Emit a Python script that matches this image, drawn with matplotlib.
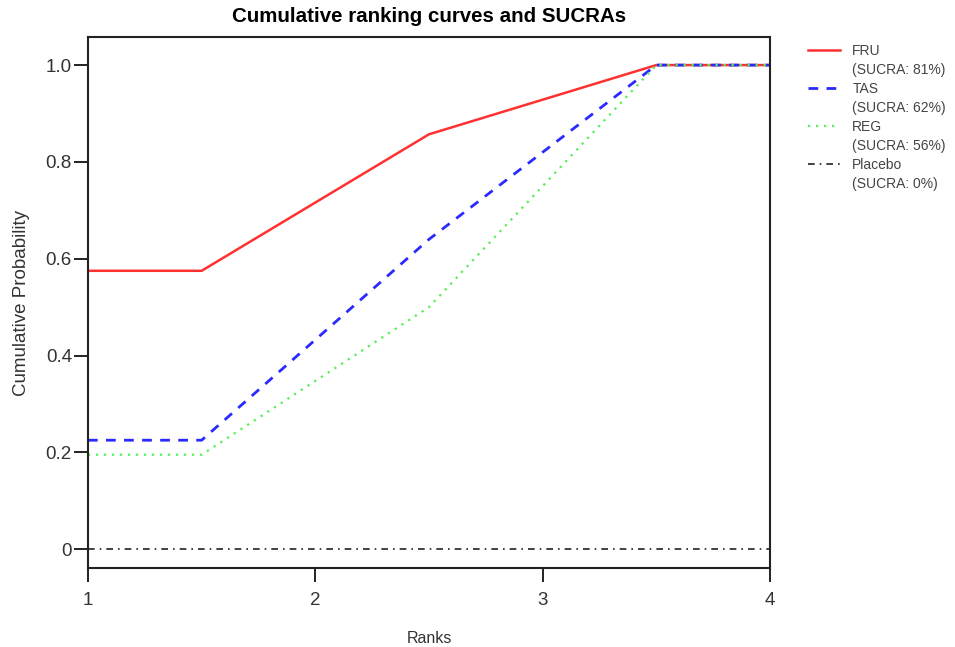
import matplotlib.pyplot as plt
from matplotlib.lines import Line2D

ranks = [1, 1.5, 2.5, 3.5, 4]
fru = [0.575, 0.575, 0.857, 1.0, 1.0]
tas = [0.225, 0.225, 0.64, 1.0, 1.0]
reg = [0.195, 0.195, 0.50, 1.0, 1.0]
placebo = [0.0, 0.0, 0.0, 0.0, 0.0]

names = ["FRU", "TAS", "REG", "Placebo"]
sucra = [81, 62, 56, 0]

plt.rcParams['font.family'] = ['Liberation Sans', 'DejaVu Sans']

fig = plt.figure(figsize=(9.55, 6.47), dpi=100)
ax = fig.add_axes([0.0921, 0.1221, 0.7142, 0.8207])

styles = [
    dict(color='#ff3030', lw=1.8, ls='-'),
    dict(color='#2a2aff', lw=2.0, ls=(0, (3.5, 3.0))),
    dict(color='#55ee55', lw=1.6, ls=(0, (1, 2.6))),
    dict(color='#222222', lw=1.2, ls=(0, (4, 3, 1, 3))),
]
for ys, st in zip([fru, tas, reg, placebo], styles):
    ax.plot(ranks, ys, **st)

ax.set_xlim(1, 4)
ax.set_ylim(-0.039, 1.058)
ax.set_xticks([1, 2, 3, 4])
ax.set_yticks([0, 0.2, 0.4, 0.6, 0.8, 1.0])
ax.set_yticklabels(['0', '0.2', '0.4', '0.6', '0.8', '1.0'])
ax.tick_params(axis='both', direction='out', length=10, width=1.4,
               labelsize=13.5, labelcolor='#333333', color='#222222')
ax.tick_params(axis='x', pad=7)
ax.tick_params(axis='y', pad=1.5)
for side in ax.spines.values():
    side.set_linewidth(1.5)
    side.set_color('#222222')

ax.set_title('Cumulative ranking curves and SUCRAs', fontsize=14.8,
             fontweight='bold', pad=11)
ax.set_xlabel('Ranks', fontsize=11.5, color='#333333', labelpad=16)
ax.set_ylabel('Cumulative Probability', fontsize=13.5, color='#333333', labelpad=11)

# legend: name next to the line sample, SUCRA on its own row below
handles, texts = [], []
for name, s, st in zip(names, sucra, styles):
    handles.append(Line2D([], [], **st))
    texts.append(name)
    handles.append(Line2D([], [], color='none'))
    texts.append(f"(SUCRA: {s}%)")

fig.legend(handles, texts, loc='upper left', bbox_to_anchor=(0.846, 0.932),
           frameon=False, fontsize=10, handlelength=2.3, handletextpad=0.9,
           labelspacing=0.36, borderpad=0, borderaxespad=0, labelcolor='#444444')

fig.savefig('out.png', dpi=100)
